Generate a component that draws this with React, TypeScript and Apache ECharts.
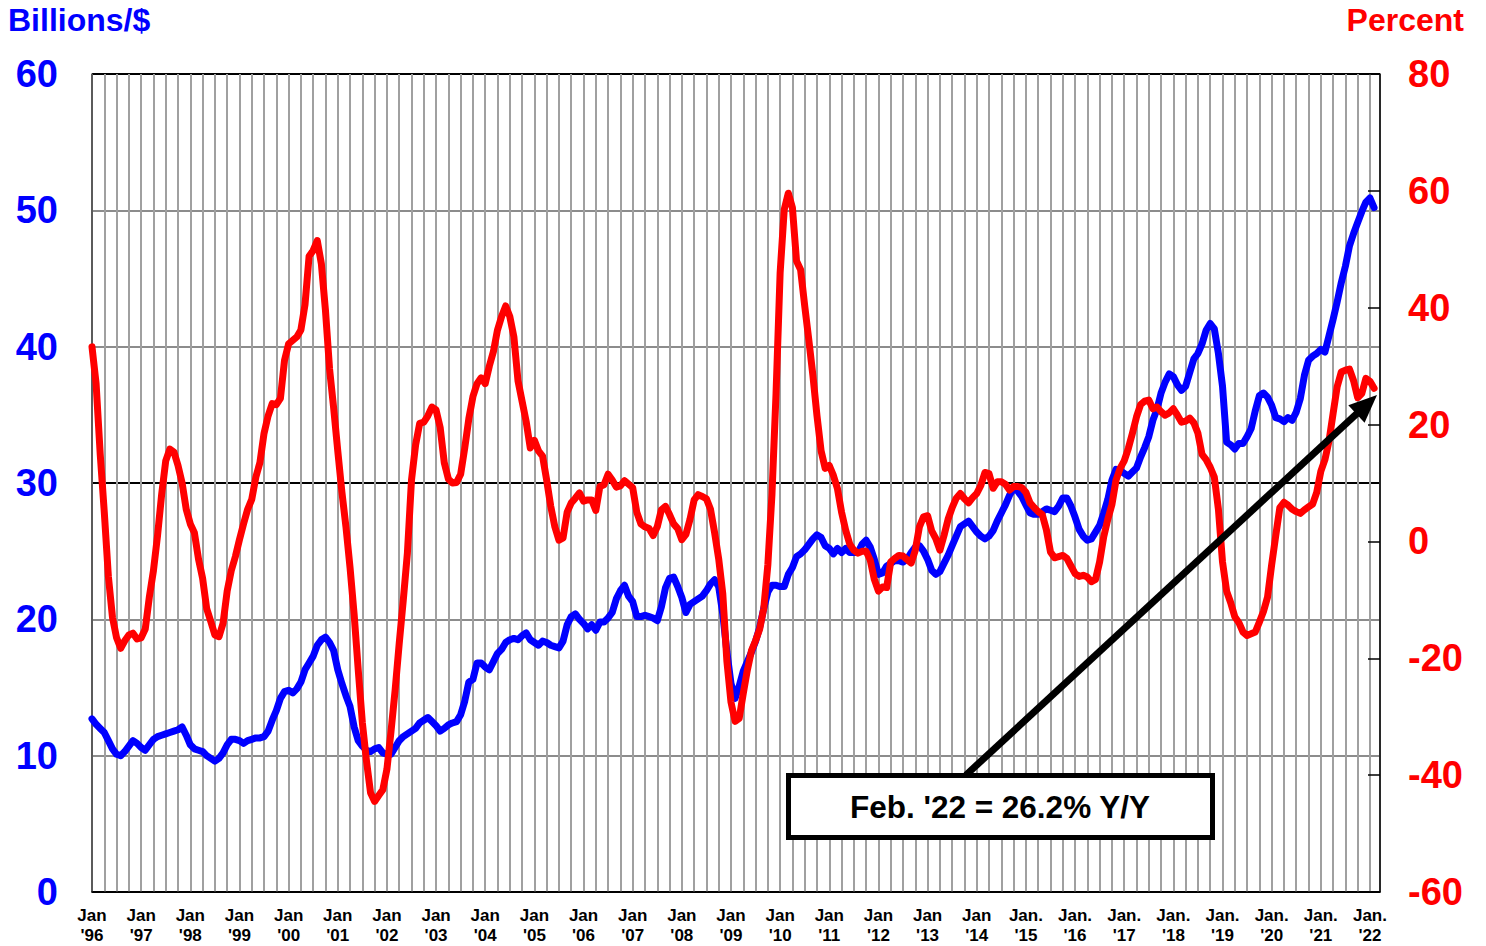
import React, { useEffect, useRef } from "react";
import * as echarts from "echarts";

// Monthly data, Jan 1996 .. Feb 2022
const startYear = 1996;
const blueValues: number[] = [
  12.7, 12.3, 12.0, 11.7, 11.1, 10.5, 10.1, 10.0, 10.3, 10.7, 11.1, 10.9,
  10.6, 10.4, 10.8, 11.2, 11.4, 11.5, 11.6, 11.7, 11.8, 11.9, 12.1, 11.5,
  10.8, 10.5, 10.4, 10.3, 10.0, 9.8, 9.6, 9.8, 10.2, 10.8, 11.2, 11.2,
  11.1, 10.9, 11.1, 11.2, 11.3, 11.3, 11.4, 11.8, 12.6, 13.3, 14.2, 14.7,
  14.8, 14.6, 14.9, 15.4, 16.3, 16.8, 17.3, 18.1, 18.5, 18.7, 18.3, 17.7,
  16.3, 15.3, 14.4, 13.6, 12.1, 11.1, 10.7, 10.4, 10.3, 10.5, 10.6, 10.2,
  10.1, 10.1, 10.6, 11.1, 11.4, 11.6, 11.8, 12.0, 12.4, 12.6, 12.8, 12.5,
  12.2, 11.8, 12.0, 12.25, 12.4, 12.5, 13.0, 14.0, 15.4, 15.6, 16.8, 16.8,
  16.5, 16.3, 16.9, 17.5, 17.8, 18.3, 18.5, 18.6, 18.5, 18.8, 19.0, 18.5,
  18.3, 18.1, 18.4, 18.3, 18.1, 18.0, 17.9, 18.4, 19.6, 20.2, 20.4, 20.0,
  19.7, 19.3, 19.6, 19.2, 19.8, 19.8, 20.1, 20.5, 21.5, 22.1, 22.5, 21.7,
  21.3, 20.2, 20.2, 20.3, 20.2, 20.1, 19.9, 20.9, 22.3, 23.0, 23.1, 22.4,
  21.6, 20.5, 21.1, 21.3, 21.5, 21.7, 22.1, 22.6, 22.9, 22.4, 20.4, 17.6,
  15.3, 14.2, 15.1, 16.2, 16.9, 17.6, 18.4, 19.4, 20.8, 22.0, 22.5, 22.5,
  22.4, 22.4, 23.3, 23.8, 24.6, 24.8, 25.1, 25.5, 25.9, 26.2, 26.0, 25.4,
  25.2, 24.8, 25.2, 24.9, 25.2, 24.9, 24.9, 24.9, 25.5, 25.8, 25.3, 24.4,
  23.3, 23.4, 23.9, 24.1, 24.3, 24.3, 24.2, 24.4, 24.9, 25.3, 25.4, 25.0,
  24.4, 23.6, 23.3, 23.5, 24.1, 24.7, 25.4, 26.1, 26.8, 27.0, 27.2, 26.8,
  26.4, 26.1, 25.9, 26.1, 26.5, 27.2, 27.8, 28.4, 29.1, 29.6, 29.4, 29.0,
  28.4, 27.8, 27.7, 27.7, 27.9, 28.1, 28.0, 27.9, 28.3, 28.9, 28.9, 28.3,
  27.5, 26.6, 26.1, 25.8, 25.9, 26.4, 26.9, 27.8, 28.8, 30.2, 31.0, 30.9,
  30.7, 30.5, 30.8, 31.1, 31.9, 32.6, 33.4, 34.6, 35.4, 36.6, 37.4, 38.0,
  37.8, 37.2, 36.8, 37.1, 38.1, 39.1, 39.5, 40.2, 41.2, 41.7, 41.3, 39.5,
  37.1, 33.0, 32.8, 32.5, 32.9, 32.9, 33.4, 34.0, 35.3, 36.4, 36.6, 36.3,
  35.7, 34.8, 34.7, 34.5, 34.8, 34.6, 35.2, 36.2, 37.9, 39.0, 39.3, 39.5,
  39.8, 39.6, 40.8, 42.0, 43.3, 44.7, 45.9, 47.4, 48.3, 49.1, 49.9, 50.6,
  50.9, 50.2,
];
const redValues: number[] = [
  33.3, 27.0, 15.0, 5.0, -6.0, -13.0, -16.5, -18.3, -17.0, -16.0, -15.7, -16.7,
  -16.5, -15.0, -9.5, -5.0, 1.0, 8.0, 13.8, 15.8, 15.3, 13.0, 10.0, 5.5,
  3.0, 1.5, -3.0, -6.3, -11.5, -13.7, -16.0, -16.3, -14.0, -8.5, -5.0, -2.6,
  0.3, 3.0, 5.5, 7.2, 11.0, 13.5, 18.5, 21.5, 23.6, 23.4, 24.5, 31.0,
  33.8, 34.4, 35.0, 36.2, 40.5, 48.8, 49.8, 51.5, 47.5, 39.5, 29.5, 22.8,
  15.5, 8.5, 2.5, -4.5, -12.5, -22.0, -31.0, -37.5, -43.0, -44.5, -43.5, -42.5,
  -39.0, -32.5, -25.5, -17.5, -10.0, -2.0, 10.5, 16.5, 20.2, 20.4, 21.5, 23.0,
  22.5, 19.5, 13.5, 10.7, 10.0, 10.1, 11.5, 16.0, 21.0, 24.8, 27.0, 28.0,
  27.0, 30.0, 32.5, 36.2, 38.5, 40.3, 38.5, 35.0, 27.5, 24.0, 20.5, 16.0,
  17.3, 15.5, 14.6, 10.5, 6.0, 2.5, 0.2, 0.6, 5.0, 6.6, 7.4, 8.3,
  6.9, 7.1, 7.1, 5.3, 9.4, 9.7, 11.5, 10.5, 9.3, 9.5, 10.4, 9.8,
  9.2, 5.0, 3.0, 2.5, 2.2, 1.0, 2.5, 5.4, 6.0, 4.6, 3.0, 2.2,
  0.3, 1.2, 3.8, 7.1, 8.0, 7.7, 7.3, 5.5, 1.5, -3.0, -9.0, -20.5,
  -27.5, -30.8, -30.3, -26.0, -22.0, -18.7, -17.0, -15.0, -11.5, -4.0, 8.0, 25.3,
  46.0, 56.8, 59.6, 57.1, 48.0, 46.5, 40.3, 34.5, 28.4, 21.5, 15.5, 12.5,
  13.0, 11.3, 9.0, 5.0, 1.9, -0.5, -1.5, -2.0, -1.7, -1.7, -3.2, -6.5,
  -8.5, -7.8, -7.9, -3.5, -2.9, -2.4, -2.5, -3.1, -3.7, -1.5, 2.5, 4.2,
  4.4, 1.8, 0.5, -1.5, 1.0, 3.8, 5.8, 7.4, 8.2, 7.3, 6.6, 7.5,
  8.2, 9.6, 11.8, 11.6, 9.1, 10.2, 10.2, 9.8, 8.8, 9.4, 9.4, 9.2,
  8.4, 6.6, 5.8, 5.1, 4.6, 2.0, -1.8, -2.8, -2.6, -2.4, -2.9, -4.2,
  -5.5, -6.0, -5.8, -6.1, -6.9, -6.5, -3.5, 0.8, 3.8, 6.3, 10.5, 12.5,
  13.8, 15.9, 18.5, 21.3, 23.4, 24.0, 24.2, 22.7, 23.0, 22.2, 21.6, 22.0,
  22.7, 21.6, 20.4, 20.6, 21.1, 20.3, 18.5, 14.9, 14.0, 12.7, 11.0, 5.5,
  -3.5, -8.5, -10.5, -12.9, -13.9, -15.5, -16.1, -15.8, -15.5, -13.8, -12.0, -9.5,
  -4.0, 1.0, 5.8, 6.7, 6.2, 5.5, 5.1, 4.8, 5.4, 5.9, 6.4, 8.4,
  12.0, 14.0, 17.2, 21.9, 26.5, 29.0, 29.3, 29.5, 27.5, 24.6, 25.3, 27.9,
  27.4, 26.2,
];

const leftAxisTitle = "Billions/$";
const rightAxisTitle = "Percent";
const annotationText = "Feb. '22 = 26.2% Y/Y";

const FONT = "'Liberation Sans', Arial, Helvetica, sans-serif";

export default function App() {
  const ref = useRef<HTMLDivElement>(null);

  useEffect(() => {
    if (!ref.current) return;
    const chart = echarts.init(ref.current, null, { renderer: "svg" });

    // arrow geometry (annotation)
    const sx = 966, sy = 775, tx = 1377, ty = 395;
    const dx = tx - sx, dy = ty - sy;
    const len = Math.sqrt(dx * dx + dy * dy);
    const ux = dx / len, uy = dy / len;
    const hl = 28, hw = 12;
    const bx = tx - ux * hl, by = ty - uy * hl;
    const px = -uy, py = ux;

    chart.setOption({
      animation: false,
      backgroundColor: "#fff",
      grid: { left: 92, right: 106, top: 74, bottom: 54, containLabel: false },
      xAxis: {
        type: "value",
        min: 0,
        max: 314.45,
        interval: 3,
        axisLine: { show: true, onZero: false, lineStyle: { color: "#000", width: 1.5 } },
        axisTick: { show: false },
        splitLine: { show: true, lineStyle: { color: "#a0a0a0", width: 2 } },
        axisLabel: {
          show: true,
          showMaxLabel: false,
          margin: 13,
          color: "#000",
          fontFamily: FONT,
          fontWeight: "bold",
          fontSize: 17,
          lineHeight: 20,
          formatter: (v: number) => {
            const m = Math.round(v);
            if (m % 12 !== 0) return "";
            const year = startYear + m / 12;
            const yy = String(year % 100).padStart(2, "0");
            return (year >= 2015 ? "Jan." : "Jan") + "\n'" + yy;
          },
        },
      },
      yAxis: [
        {
          type: "value",
          min: 0,
          max: 60,
          interval: 10,
          position: "left",
          axisLine: { show: true, lineStyle: { color: "#444", width: 1.5 } },
          axisTick: { show: false },
          splitLine: {
            show: true,
            lineStyle: { color: ["#000", "#8c8c8c", "#8c8c8c"], width: 2 },
          },
          axisLabel: {
            color: "#0000ff",
            fontFamily: FONT,
            fontWeight: "bold",
            fontSize: 38,
            margin: 34,
          },
        },
        {
          type: "value",
          min: -60,
          max: 80,
          interval: 20,
          position: "right",
          axisLine: { show: true, lineStyle: { color: "#000", width: 1.5 } },
          axisTick: { show: true, inside: true, length: 12, lineStyle: { color: "#000", width: 1.5 } },
          splitLine: { show: false },
          axisLabel: {
            color: "#ff0000",
            fontFamily: FONT,
            fontWeight: "bold",
            fontSize: 38,
            margin: 28,
          },
        },
      ],
      series: [
        {
          type: "line",
          name: "Billions",
          yAxisIndex: 0,
          data: blueValues.map((v, i) => [i, v]),
          showSymbol: false,
          symbol: "none",
          lineStyle: { color: "#0000ff", width: 7, cap: "round", join: "round" },
          z: 3,
        },
        {
          type: "line",
          name: "Percent",
          yAxisIndex: 1,
          data: redValues.map((v, i) => [i, v]),
          showSymbol: false,
          symbol: "none",
          lineStyle: { color: "#ff0000", width: 7, cap: "round", join: "round" },
          z: 4,
        },
      ],
      graphic: [
        {
          type: "text",
          left: 8,
          top: 4,
          z: 100,
          style: {
            text: leftAxisTitle,
            fill: "#0000ff",
            font: `bold 32px ${FONT}`,
          },
        },
        {
          type: "text",
          right: 22,
          top: 4,
          z: 100,
          style: {
            text: rightAxisTitle,
            fill: "#ff0000",
            font: `bold 32px ${FONT}`,
          },
        },
        {
          type: "line",
          z: 100,
          shape: { x1: sx, y1: sy, x2: bx + ux * 2, y2: by + uy * 2 },
          style: { stroke: "#000", lineWidth: 7 },
        },
        {
          type: "polygon",
          z: 100,
          shape: {
            points: [
              [tx, ty],
              [bx + px * hw, by + py * hw],
              [bx - px * hw, by - py * hw],
            ],
          },
          style: { fill: "#000" },
        },
        {
          type: "rect",
          z: 101,
          shape: { x: 788.5, y: 775.5, width: 424, height: 62 },
          style: { fill: "#fff", stroke: "#000", lineWidth: 5 },
        },
        {
          type: "text",
          z: 102,
          x: 1000,
          y: 807,
          style: {
            text: annotationText,
            fill: "#000",
            font: `bold 31.5px ${FONT}`,
            textAlign: "center",
            textVerticalAlign: "middle",
          },
        },
      ],
    });

    return () => chart.dispose();
  }, []);

  return (
    <div
      ref={ref}
      style={{ position: "fixed", left: 0, top: 0, width: 1486, height: 946 }}
    />
  );
}
